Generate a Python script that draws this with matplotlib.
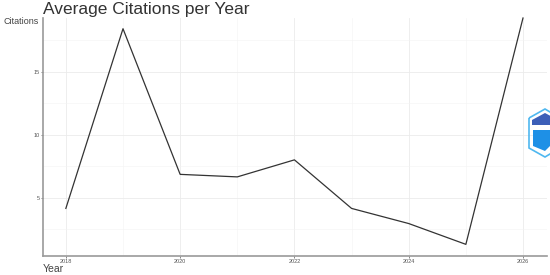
import matplotlib
matplotlib.use("Agg")
import matplotlib.pyplot as plt
from matplotlib.patches import Polygon
from matplotlib.ticker import MultipleLocator

plt.rcParams['font.family'] = ['Liberation Sans', 'DejaVu Sans']

years = [2018, 2019, 2020, 2021, 2022, 2023, 2024, 2025, 2026]
citations = [4.15, 18.4, 6.85, 6.65, 8.0, 4.15, 2.95, 1.3, 19.25]
x_ticks = [2018, 2020, 2022, 2024, 2026]
y_ticks = [5, 10, 15]

W, H = 550, 275
fig = plt.figure(figsize=(5.5, 2.75), dpi=100)
l, r, t, b = 43, 547, 18, 255.7
ax = fig.add_axes([l / W, (H - b) / H, (r - l) / W, (b - t) / H])

ax.plot(years, citations, color='#333333', linewidth=0.9, zorder=3, clip_on=False)
ax.set_xlim(2017.6, 2026.42)
ax.set_ylim(0.4, 19.25)
ax.set_xticks(x_ticks)
ax.set_yticks(y_ticks)
ax.xaxis.set_minor_locator(MultipleLocator(1))
ax.yaxis.set_minor_locator(MultipleLocator(2.5))
ax.grid(which='major', color='#ebebeb', linewidth=0.6)
ax.grid(which='minor', color='#f3f3f3', linewidth=0.4)
ax.set_axisbelow(True)
for s in ['top', 'right']:
    ax.spines[s].set_visible(False)
for s in ['left', 'bottom']:
    ax.spines[s].set_color('#9a9a9a')
    ax.spines[s].set_linewidth(1.2)
ax.tick_params(which='major', length=1.5, width=0.5, color='#555555', labelsize=4,
               labelcolor='#555555', pad=1)
ax.tick_params(which='minor', length=0)

fig.text(43 / W, 1 - 9.5 / H, 'Average Citations per Year', fontsize=12.5,
         color='#333333', va='center', ha='left')
fig.text(4 / W, 1 - 22 / H, 'Citations', fontsize=6.5, color='#444444',
         va='center', ha='left')
fig.text(42.5 / W, 1 - 268.5 / H, 'Year', fontsize=7.5, color='#444444',
         va='center', ha='left')

# logo (partially clipped at right edge)
def fpoly(pts, **kw):
    p = Polygon([(x / W, 1 - y / H) for x, y in pts], closed=True,
                transform=fig.transFigure, **kw)
    fig.patches.append(p)

fpoly([(529, 118), (545, 109), (560, 118), (560, 148), (545, 157), (529, 148)],
      facecolor='none', edgecolor='#4fb8f0', linewidth=1.2)
fpoly([(532, 120), (545, 113), (558, 120), (558, 125), (532, 125)],
      facecolor='#3c5fb8', edgecolor='none')
fpoly([(533, 130), (550, 130), (550, 146), (545, 151), (533, 146)],
      facecolor='#1e90e6', edgecolor='none')

fig.savefig('out.png', dpi=100)
